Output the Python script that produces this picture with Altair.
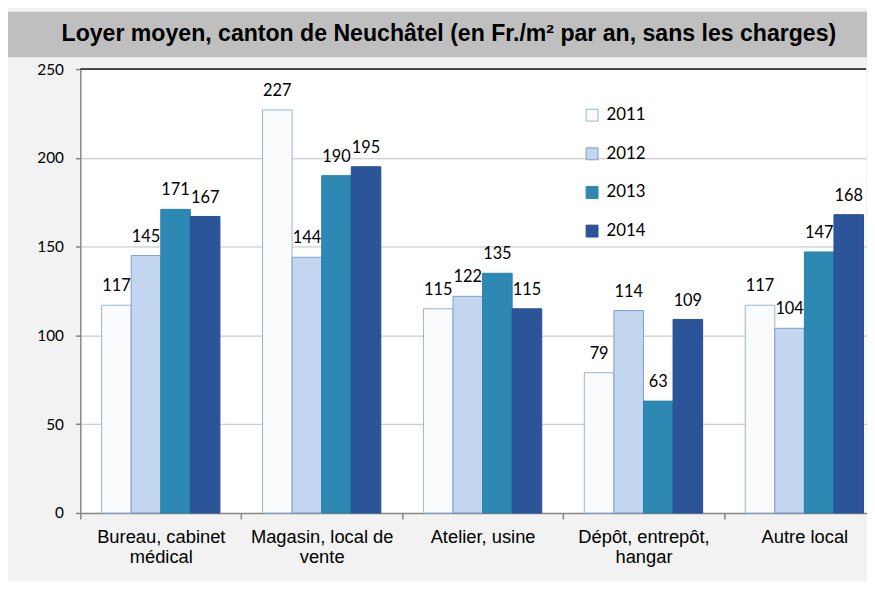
import json
import altair as alt
import pandas as pd

title_text = "Loyer moyen, canton de Neuchâtel (en Fr./m² par an, sans les charges)"
categories = [
    "Bureau, cabinet médical",
    "Magasin, local de vente",
    "Atelier, usine",
    "Dépôt, entrepôt, hangar",
    "Autre local",
]
label_lines = [
    ["Bureau, cabinet", "médical"],
    ["Magasin, local de", "vente"],
    ["Atelier, usine"],
    ["Dépôt, entrepôt,", "hangar"],
    ["Autre local"],
]
years = ["2011", "2012", "2013", "2014"]
v2011 = [117, 227, 115, 79, 117]
v2012 = [145, 144, 122, 114, 104]
v2013 = [171, 190, 135, 63, 147]
v2014 = [167, 195, 115, 109, 168]
y_ticks = [0, 50, 100, 150, 200, 250]

fill_colors = ["#f9fbfd", "#c2d6ef", "#2d89b3", "#2b5598"]
stroke_colors = ["#9ab4d8", "#7e9fcf", "#2a82aa", "#27508f"]

series = {"2011": v2011, "2012": v2012, "2013": v2013, "2014": v2014}
rows = []
for y in years:
    for c, v in zip(categories, series[y]):
        rows.append({"cat": c, "year": y, "value": v})
df = pd.DataFrame(rows)

label_map = json.dumps(dict(zip(categories, label_lines)), ensure_ascii=False)

W = 793
H = 448
XRANGE = 812

x_enc = alt.X(
    "cat:N",
    sort=categories,
    scale=alt.Scale(paddingInner=0, paddingOuter=0, range=[0, XRANGE]),
    axis=alt.Axis(
        title=None,
        labelAngle=0,
        tickBand="extent",
        grid=False,
        labelExpr=label_map + "[datum.label]",
        domainColor="#868686",
        domainWidth=1.5,
        tickColor="#868686",
        tickWidth=1.5,
        tickSize=6,
        labelPadding=9,
        labelFont="Liberation Sans",
        labelFontSize=18.5,
        labelColor="#000000",
        labelLineHeight=20,
        labelBaseline="top",
    ),
)
xoff = alt.XOffset(
    "year:N", sort=years, scale=alt.Scale(paddingInner=0, paddingOuter=0.72)
)
y_enc = alt.Y(
    "value:Q",
    scale=alt.Scale(domain=[0, 250], nice=False),
    axis=alt.Axis(
        title=None,
        values=y_ticks,
        grid=True,
        gridColor="#bfbfbf",
        gridWidth=1,
        domainColor="#868686",
        domainWidth=1.5,
        tickColor="#868686",
        tickWidth=1.5,
        tickSize=5,
        labelPadding=12,
        labelFont="Lato",
        labelFontSize=15.5,
        labelColor="#000000",
    ),
)

base = alt.Chart(df)

bars = base.mark_bar(strokeWidth=1).encode(
    x=x_enc,
    xOffset=xoff,
    y=y_enc,
    fill=alt.Fill(
        "year:N",
        sort=years,
        scale=alt.Scale(domain=years, range=fill_colors),
        legend=alt.Legend(
            title=None,
            orient="none",
            legendX=508,
            legendY=38,
            symbolType="square",
            symbolSize=144,
            symbolStrokeWidth=1,
            labelFont="Lato",
            labelFontSize=17,
            labelColor="#000000",
            labelOffset=6,
            rowPadding=21,
            padding=0,
        ),
    ),
    stroke=alt.Stroke(
        "year:N",
        sort=years,
        scale=alt.Scale(domain=years, range=stroke_colors),
        legend=alt.Legend(title=None),
    ),
)

labels = base.mark_text(
    baseline="alphabetic", dy=-14, font="Lato", fontSize=16.5, color="#000000"
).encode(x=x_enc, xOffset=xoff, y=y_enc, text=alt.Text("value:Q"))

top_line = alt.Chart(pd.DataFrame({"v": [250]})).mark_rule(
    color="#1a1a1a", strokeWidth=1.5
).encode(y=alt.Y("v:Q"))

title_df = pd.DataFrame({"t": [title_text]})
title_band = alt.Chart(title_df).mark_rect(color="#bfbfbf").encode(
    x=alt.value(-80), x2=alt.value(900), y=alt.value(-58), y2=alt.value(-12)
)
title_mark = alt.Chart(title_df).mark_text(
    font="Liberation Sans",
    fontSize=23.3,
    fontWeight="bold",
    color="#000000",
    align="center",
    baseline="middle",
).encode(text="t:N", x=alt.value(372), y=alt.value(-35))

chart = (
    alt.layer(title_band, title_mark, bars, labels, top_line)
    .properties(
        width=W,
        height=H,
        autosize=alt.AutoSizeParams(type="none"),
        padding={"left": 73, "top": 59, "right": 1, "bottom": 66},
        background="#f2f2f2",
    )
    .configure_view(fill="#ffffff", stroke=None)
)

chart.save("out.html", embed_options={"renderer": "svg", "actions": False})
